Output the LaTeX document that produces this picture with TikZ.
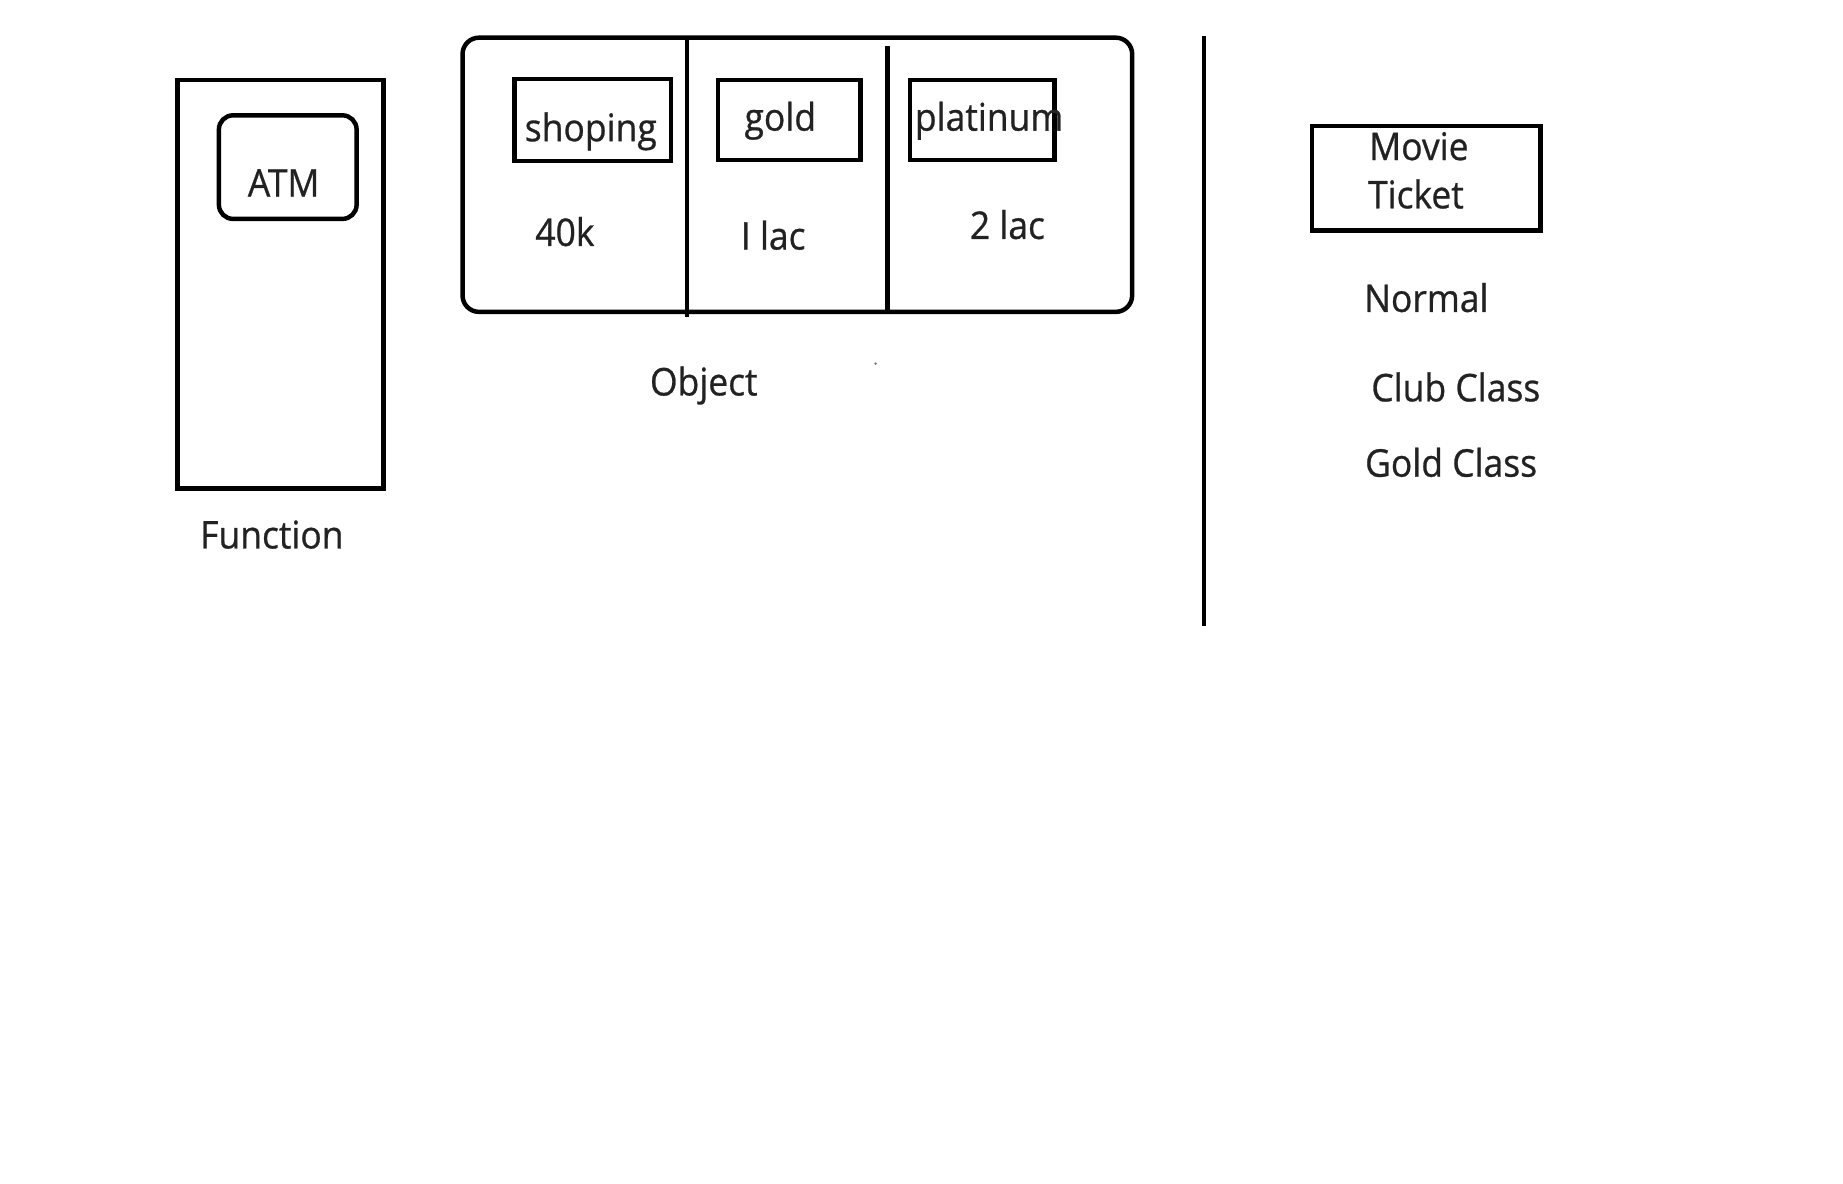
\documentclass[tikz,border=0pt]{standalone}
\usepackage{fontspec}
\setmainfont{Open Sans}[FakeStretch=0.93,FakeBold=0.7]
\definecolor{ink}{HTML}{000000}
\definecolor{txtgray}{HTML}{222222}
\begin{document}
\begin{tikzpicture}[x=0.5pt,y=-0.5pt,
  frame/.style={draw=ink, line width=1.9pt, inner sep=0pt},
  roundframe/.style={frame, rounded corners=6pt},
  lbl/.style={font=\fontsize{16.2}{20}\selectfont, text=txtgray, inner sep=0pt, anchor=base},
  lblleft/.style={lbl, anchor=base west},
  rule/.style={draw=ink, line width=1.8pt}]
\useasboundingbox[fill=white] (0,0) rectangle (1566,1006);

% Function panel
\node[frame, minimum width=87.5pt, minimum height=173.5pt] (funcbox) at (238.5,241.5) {};
\node[roundframe, minimum width=58.5pt, minimum height=44pt] (atmbox) at (244.5,142) {};
\node[lbl] (atm) at (241,167) {ATM};
\node[lbl] (function) at (231,466) {Function};

% Object panel
\node[frame, rounded corners=7pt, minimum width=284.5pt, minimum height=116.5pt] (objbox) at (677.5,148.5) {};
\coordinate (d1top) at (584,34);
\coordinate (d1bot) at (584,269);
\coordinate (d2top) at (754,39);
\coordinate (d2bot) at (754,264);
\draw[rule] (d1top) -- (d1bot);
\draw[rule] (d2top) -- (d2bot);

\node[frame, minimum width=66.5pt, minimum height=35pt] (shopbox) at (503.5,102) {};
\node[frame, minimum width=60.5pt, minimum height=34pt] (goldbox) at (670.5,102) {};
\node[frame, minimum width=61.5pt, minimum height=34pt] (platbox) at (834.5,102) {};
\node[lbl] (shoping) at (502,120) {shoping};
\node[lbl] (gold) at (663,111) {gold};
\node[lblleft] (platinum) at (777,111) {platinum};
\node[lbl] (k40) at (480,209) {40k};
\node[lbl] (lac1) at (657,212) {I lac};
\node[lbl] (lac2) at (856,203) {2 lac};
\node[lbl] (object) at (598,336) {Object};
\fill[txtgray!60] (744,309) circle (0.6pt);

% separator
\coordinate (septop) at (1023,31);
\coordinate (sepbot) at (1023,532);
\draw[rule] (septop) -- (sepbot);

% Movie ticket
\node[frame, minimum width=97pt, minimum height=44.5pt] (moviebox) at (1212,151.5) {};
\node[lblleft] (movie) at (1163,136) {Movie};
\node[lblleft] (ticket) at (1162,177) {Ticket};
\node[lbl] (normal) at (1212,265) {Normal};
\node[lbl] (club) at (1237,341) {Club Class};
\node[lbl] (goldclass) at (1233,405) {Gold Class};
\end{tikzpicture}
\end{document}
